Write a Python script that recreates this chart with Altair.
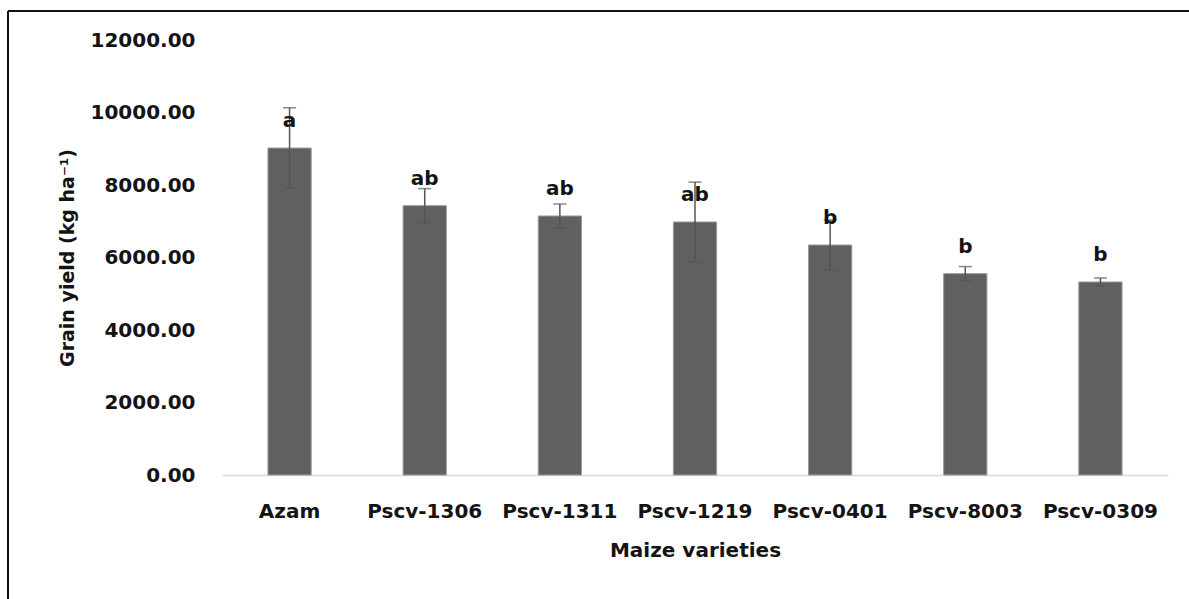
import altair as alt
import pandas as pd

categories = ["Azam", "Pscv-1306", "Pscv-1311", "Pscv-1219", "Pscv-0401", "Pscv-8003", "Pscv-0309"]
means = [9020, 7430, 7145, 6980, 6345, 5555, 5325]
errors = [1110, 470, 330, 1100, 690, 195, 110]
letters = ["a", "ab", "ab", "ab", "b", "b", "b"]
y_ticks = [0, 2000, 4000, 6000, 8000, 10000, 12000]

df = pd.DataFrame({
    "variety": categories,
    "mean": means,
    "lo": [m - e for m, e in zip(means, errors)],
    "hi": [m + e for m, e in zip(means, errors)],
    "letter": letters,
})

FONT = "DejaVu Sans"
TXT = "#141414"

x = alt.X("variety:N", sort=categories, title="Maize varieties",
          scale=alt.Scale(paddingInner=0.68, paddingOuter=0.34),
          axis=alt.Axis(labelAngle=0, ticks=False, domainColor="#d9d9d9", domainWidth=1.5,
                        labelPadding=26, labelFont=FONT, labelFontWeight="bold",
                        labelFontSize=20, labelColor=TXT, titleFont=FONT,
                        titleFontWeight="bold", titleFontSize=20, titleColor=TXT,
                        titlePadding=19))
y_scale = alt.Scale(domain=[0, 12000], nice=False)

bars = alt.Chart(df).mark_bar(color="#606060", stroke="#9a9a9a", strokeWidth=1).encode(
    x=x,
    y=alt.Y("mean:Q", scale=y_scale, title="Grain yield (kg ha⁻¹)",
            axis=alt.Axis(values=y_ticks, format=".2f", grid=False, domain=False, ticks=False,
                          labelPadding=27, labelFont=FONT, labelFontWeight="bold",
                          labelFontSize=20, labelColor=TXT, titleFont=FONT,
                          titleFontWeight="bold", titleFontSize=19, titleColor=TXT,
                          titlePadding=12)),
)

err = alt.Chart(df).mark_rule(color="#555555", strokeWidth=1.5).encode(
    x=alt.X("variety:N", sort=categories), y=alt.Y("lo:Q", scale=y_scale), y2="hi:Q")
cap_hi = alt.Chart(df).mark_tick(color="#555555", thickness=1.5, size=13, orient="horizontal").encode(
    x=alt.X("variety:N", sort=categories), y=alt.Y("hi:Q", scale=y_scale))
cap_lo = alt.Chart(df).mark_tick(color="#555555", thickness=1.5, size=13, orient="horizontal").encode(
    x=alt.X("variety:N", sort=categories), y=alt.Y("lo:Q", scale=y_scale))

labels = alt.Chart(df).mark_text(font=FONT, fontWeight="bold", fontSize=20, color=TXT,
                                 baseline="middle", dy=-27).encode(
    x=alt.X("variety:N", sort=categories), y=alt.Y("mean:Q", scale=y_scale), text="letter:N")

frame_top = alt.Chart(df).mark_rule(color="#111111", strokeWidth=2).encode(
    x=alt.value(-214), x2=alt.value(1000), y=alt.value(-29))
frame_left = alt.Chart(df).mark_rule(color="#111111", strokeWidth=2).encode(
    x=alt.value(-214), y=alt.value(-29), y2=alt.value(600))

chart = alt.layer(bars, err, cap_hi, cap_lo, labels, frame_top, frame_left).properties(
    width=946, height=435,
    autosize=alt.AutoSizeParams(type="none"),
    padding={"left": 222, "top": 40, "right": 21, "bottom": 124},
    background="white",
).configure_view(stroke=None)

chart.save("out.html", embed_options={"renderer": "svg", "actions": False})
